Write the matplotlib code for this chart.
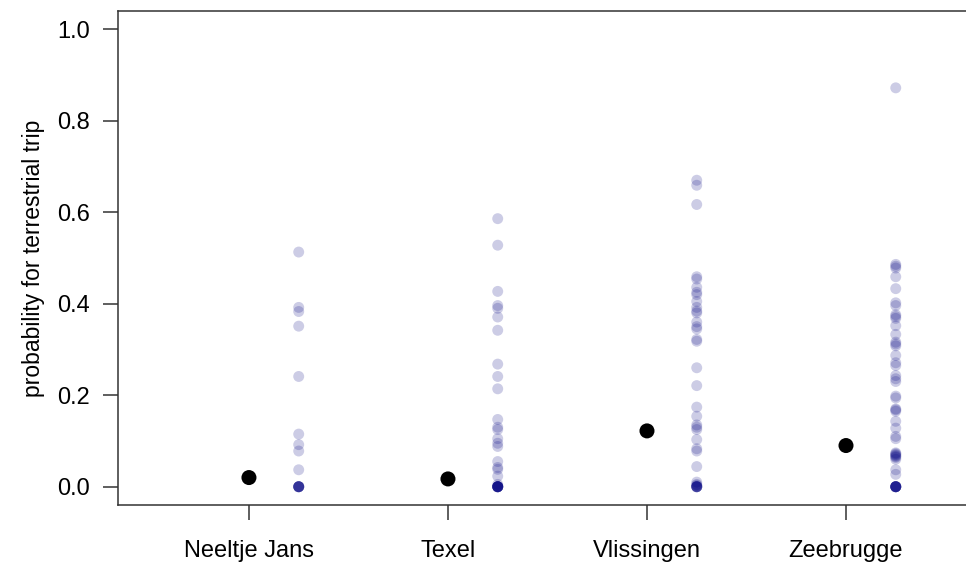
import numpy as np
import matplotlib.pyplot as plt

plt.rcParams['font.family'] = ['Liberation Sans', 'DejaVu Sans']

colonies = ['Neeltje Jans', 'Texel', 'Vlissingen', 'Zeebrugge']

# mean probability per colony (black dots)
colony_mean = [0.020, 0.017, 0.122, 0.090]

# individual probabilities (transparent blue dots)
neeltje_jans = [0.513, 0.392, 0.383, 0.351, 0.241, 0.115, 0.092, 0.078, 0.037,
                0.0, 0.0, 0.0, 0.0, 0.0, 0.0, 0.0]
texel = [0.586, 0.528, 0.427, 0.396, 0.390, 0.371, 0.342, 0.268, 0.241, 0.214,
         0.147, 0.130, 0.125, 0.105, 0.095, 0.088, 0.055, 0.042, 0.038, 0.023,
         0.005, 0.0, 0.0, 0.0, 0.0, 0.0, 0.0, 0.0, 0.0, 0.0, 0.0]
vlissingen = [0.670, 0.659, 0.617, 0.459, 0.454, 0.436, 0.425, 0.420, 0.405,
              0.392, 0.384, 0.380, 0.360, 0.350, 0.345, 0.322, 0.318, 0.260,
              0.221, 0.174, 0.154, 0.135, 0.130, 0.125, 0.103, 0.083, 0.078,
              0.044, 0.010, 0.005, 0.003, 0.0, 0.0, 0.0, 0.0, 0.0, 0.0]
zeebrugge = [0.872, 0.486, 0.482, 0.478, 0.459, 0.433, 0.402, 0.396, 0.376,
             0.372, 0.368, 0.352, 0.333, 0.316, 0.312, 0.308, 0.287, 0.271,
             0.265, 0.243, 0.236, 0.230, 0.198, 0.194, 0.170, 0.168, 0.165,
             0.143, 0.128, 0.110, 0.105, 0.074, 0.072, 0.070, 0.068, 0.066,
             0.064, 0.060, 0.037, 0.027, 0.0, 0.0, 0.0, 0.0, 0.0, 0.0, 0.0,
             0.0, 0.0]

individuals = [neeltje_jans, texel, vlissingen, zeebrugge]

fig = plt.figure(figsize=(9.66, 5.63), dpi=100)
ax = fig.add_axes([118 / 966, 58 / 563, 1 - 118 / 966, (505 - 11) / 563])

x = np.arange(1, len(colonies) + 1)
for i, vals in enumerate(individuals):
    ax.scatter(np.full(len(vals), x[i] + 0.25), vals, s=62, color='navy',
               alpha=0.2, edgecolors='none', zorder=2)
ax.scatter(x, colony_mean, s=117, color='black', edgecolors='none', zorder=3)

ax.set_xlim(0.342, 4.603)
ax.set_ylim(-0.04, 1.04)
ax.set_xticks(x)
ax.set_xticklabels(colonies)
ax.set_yticks(np.arange(0, 1.01, 0.2))
ax.set_yticklabels([f'{v:.1f}' for v in np.arange(0, 1.01, 0.2)])
ax.set_ylabel('probability for terrestrial trip', fontsize=16.5, labelpad=8.5)

for side in ['left', 'bottom', 'top']:
    ax.spines[side].set_color('#333333')
    ax.spines[side].set_linewidth(1.1)
ax.spines['right'].set_visible(False)
ax.tick_params(axis='both', direction='out', length=10.5, width=1.1,
               color='#333333', labelsize=17)
ax.tick_params(axis='y', pad=10)
ax.tick_params(axis='x', pad=15)

fig.savefig('out.png', dpi=100)
